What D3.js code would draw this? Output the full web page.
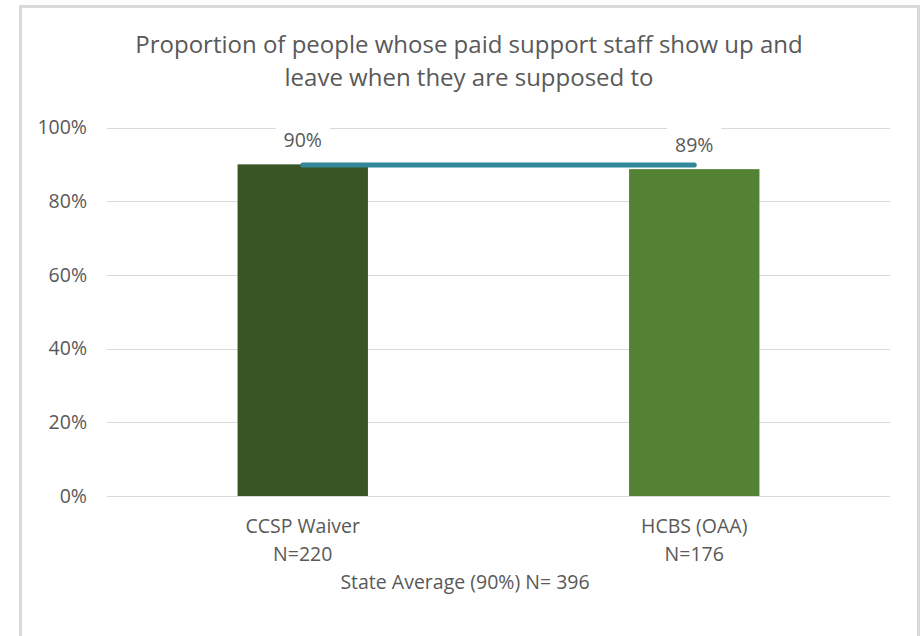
<!DOCTYPE html>
<html>
<head>
<meta charset="utf-8">
<script src="https://cdn.jsdelivr.net/npm/d3@7"></script>
<style>
  html, body { margin: 0; padding: 0; background: #ffffff; }
  svg { display: block; }
  text { font-family: "Open Sans", "Noto Sans", sans-serif; fill: #595959; }
</style>
</head>
<body>
<script>
const titleLines = ["Proportion of people whose paid support staff show up and", "leave when they are supposed to"];
const categories = ["CCSP Waiver", "HCBS (OAA)"];
const sampleLabels = ["N=220", "N=176"];
const barValues = [90.0, 88.7];
const barLabels = ["90%", "89%"];
const stateAverage = [89.8, 89.8];
const yTicks = [0, 20, 40, 60, 80, 100];
const axisTitle = "State Average (90%) N= 396";
const barColors = ["#375623", "#548235"];
const lineColor = "#31889a";

const W = 922, H = 636;
const svg = d3.select("body").append("svg").attr("width", W).attr("height", H);
svg.append("rect").attr("width", W).attr("height", H).attr("fill", "#fff");

// chart frame
svg.append("rect")
  .attr("x", 20.5).attr("y", 6.5).attr("width", 898).attr("height", 640)
  .attr("fill", "#fff").attr("stroke", "#d9d9d9").attr("stroke-width", 3);

const plot = { left: 107, right: 890, top: 127.5, bottom: 496 };

const x = d3.scaleBand().domain(categories)
  .range([plot.left, plot.right]).paddingInner(0.667).paddingOuter(0.3335);
const y = d3.scaleLinear().domain([0, 100]).range([plot.bottom, plot.top]);

// title
svg.append("text").attr("text-anchor", "middle").attr("font-size", 24)
  .selectAll("tspan").data(titleLines).join("tspan")
  .attr("x", 469).attr("y", (d, i) => 53 + i * 33).text(d => d);

// gridlines
svg.append("g").selectAll("line").data(yTicks).join("line")
  .attr("x1", plot.left).attr("x2", plot.right)
  .attr("y1", d => Math.round(y(d)) + 0.5).attr("y2", d => Math.round(y(d)) + 0.5)
  .attr("stroke", "#d9d9d9").attr("stroke-width", 1);

// y axis labels
const yAxis = d3.axisLeft(y).tickValues(yTicks).tickFormat(d => d + "%").tickSize(0).tickPadding(0);
const yg = svg.append("g").attr("transform", `translate(87,0)`).call(yAxis);
yg.select(".domain").remove();
yg.selectAll("text").attr("font-size", 19.5).attr("fill", "#595959")
  .attr("font-family", '"Open Sans", sans-serif');

// bars
svg.append("g").selectAll("rect").data(categories).join("rect")
  .attr("x", d => x(d)).attr("width", x.bandwidth())
  .attr("y", (d, i) => y(barValues[i]))
  .attr("height", (d, i) => y(0) - y(barValues[i]))
  .attr("fill", (d, i) => barColors[i]);

// state average line
const line = d3.line().x((d, i) => x(categories[i]) + x.bandwidth() / 2).y(d => y(d));
svg.append("path").datum(stateAverage).attr("d", line)
  .attr("fill", "none").attr("stroke", lineColor).attr("stroke-width", 5)
  .attr("stroke-linecap", "round");

// bar labels with white boxes
const lg = svg.append("g").selectAll("g").data(categories).join("g")
  .attr("transform", (d, i) => `translate(${x(d) + x.bandwidth() / 2},${y(barValues[i]) - 17})`);
lg.append("rect").attr("x", -27).attr("y", -26).attr("width", 54).attr("height", 32).attr("fill", "#fff");
lg.append("text").attr("text-anchor", "middle").attr("font-size", 19.5)
  .text((d, i) => barLabels[i]);

// category labels
const cg = svg.append("g").selectAll("text").data(categories).join("text")
  .attr("text-anchor", "middle").attr("font-size", 19.5);
cg.append("tspan").attr("x", d => x(d) + x.bandwidth() / 2).attr("y", 533).text(d => d);
cg.append("tspan").attr("x", d => x(d) + x.bandwidth() / 2).attr("y", 561).text((d, i) => sampleLabels[i]);

svg.append("text").attr("x", 465).attr("y", 589).attr("text-anchor", "middle")
  .attr("font-size", 19.5).text(axisTitle);
</script>
</body>
</html>
